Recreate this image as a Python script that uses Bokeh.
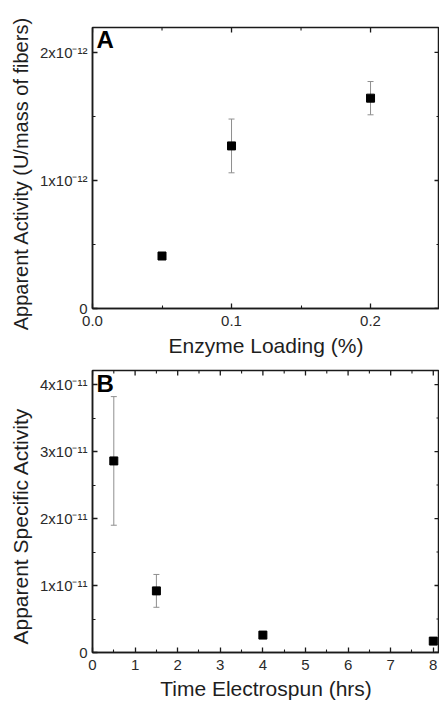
import math
from bokeh.plotting import figure
from bokeh.layouts import column
from bokeh.models import (ColumnDataSource, Whisker, TeeHead, FixedTicker,
                          CustomJSTickFormatter, Range1d, Label)
from bokeh.embed import file_html
from bokeh.resources import INLINE

# ---- Panel A data ----
a_loading = [0.05, 0.1, 0.2]
a_activity = [0.41e-12, 1.27e-12, 1.643e-12]
a_err = [0.0, 0.21e-12, 0.13e-12]
a_xticks = [0.0, 0.1, 0.2]
a_xminor = [0.05, 0.15]
a_xlabels = ["0.0", "0.1", "0.2"]
a_yticks = [0.0, 1e-12, 2e-12]
a_yminor = [0.5e-12, 1.5e-12]
a_ylabels = ["0", "1x10\u207b\u00b9\u00b2", "2x10\u207b\u00b9\u00b2"]

# ---- Panel B data ----
b_time = [0.5, 1.5, 4.0, 8.0]
b_activity = [2.86e-11, 0.92e-11, 0.26e-11, 0.17e-11]
b_err = [0.96e-11, 0.245e-11, 0.0, 0.0]
b_xticks = [0, 1, 2, 3, 4, 5, 6, 7, 8]
b_xminor = [0.5, 1.5, 2.5, 3.5, 4.5, 5.5, 6.5, 7.5]
b_xlabels = ["0", "1", "2", "3", "4", "5", "6", "7", "8"]
b_yticks = [0.0, 1e-11, 2e-11, 3e-11, 4e-11]
b_yminor = [0.5e-11, 1.5e-11, 2.5e-11, 3.5e-11]
b_ylabels = ["0", "1x10\u207b\u00b9\u00b9", "2x10\u207b\u00b9\u00b9", "3x10\u207b\u00b9\u00b9", "4x10\u207b\u00b9\u00b9"]

FONT = "Liberation Sans"
TXT = "#1e1e1e"
TICKTXT = "#2a2a2a"
AXC = "#1a1a1a"
NB = "\u00a0"

fmt_code = """
let best = 0; let bd = Infinity;
for (let i = 0; i < vals.length; i++) {
  const d = Math.abs(vals[i] - tick);
  if (d < bd) { bd = d; best = i; }
}
return labs[best];
"""


def style_axis(ax, ticker, fmt):
    ax.ticker = ticker
    ax.formatter = fmt
    ax.major_tick_in = 5
    ax.major_tick_out = 0
    ax.minor_tick_in = 3
    ax.minor_tick_out = 0
    ax.axis_line_color = AXC
    ax.axis_line_width = 1.5
    ax.major_tick_line_color = AXC
    ax.major_tick_line_width = 1.3
    ax.minor_tick_line_color = AXC
    ax.minor_tick_line_width = 1.1
    ax.major_label_text_font = FONT
    ax.major_label_text_font_size = "15px"
    ax.major_label_text_color = TICKTXT
    ax.axis_label_text_font = FONT
    ax.axis_label_text_font_style = "normal"
    ax.axis_label_text_color = TXT


def make_panel(xs, ys, errs, xr, yr, xt, xm, xl, yt, ym, yl, xlabel, ylabel, letter,
               height, b_top, b_bottom, frame_h, ylab_size, x_stand, y_stand, letter_y):
    p = figure(width=439, height=height, output_backend="svg", toolbar_location=None,
               x_range=Range1d(*xr), y_range=Range1d(*yr),
               min_border_left=92, min_border_right=0, min_border_top=b_top,
               min_border_bottom=b_bottom, background_fill_color="white",
               border_fill_color="white")
    p.xgrid.visible = False
    p.ygrid.visible = False
    p.outline_line_color = AXC
    p.outline_line_width = 1.5

    xfmt = CustomJSTickFormatter(args=dict(vals=xt, labs=xl), code=fmt_code)
    yfmt = CustomJSTickFormatter(args=dict(vals=yt, labs=yl), code=fmt_code)
    style_axis(p.xaxis[0], FixedTicker(ticks=xt, minor_ticks=xm), xfmt)
    style_axis(p.yaxis[0], FixedTicker(ticks=yt, minor_ticks=ym), yfmt)
    p.xaxis[0].major_label_standoff = 7
    p.yaxis[0].major_label_standoff = 5
    p.xaxis[0].axis_label = xlabel
    p.yaxis[0].axis_label = ylabel
    p.xaxis[0].axis_label_text_font_size = "21px"
    p.yaxis[0].axis_label_text_font_size = ylab_size
    p.xaxis[0].axis_label_standoff = x_stand
    p.yaxis[0].axis_label_standoff = y_stand

    # mirrored inward ticks on the top and right edges (half of each dash is clipped)
    xend, yend = xr[1], yr[1]
    p.scatter([xend] * len(yt), yt, marker="dash", size=10, line_color=AXC, line_width=1.3)
    p.scatter([xend] * len(ym), ym, marker="dash", size=6, line_color=AXC, line_width=1.1)
    p.scatter(xt, [yend] * len(xt), marker="dash", size=10, angle=math.pi / 2,
              line_color=AXC, line_width=1.3)
    p.scatter(xm, [yend] * len(xm), marker="dash", size=6, angle=math.pi / 2,
              line_color=AXC, line_width=1.1)

    lower = [y - e for y, e in zip(ys, errs)]
    upper = [y + e for y, e in zip(ys, errs)]
    src = ColumnDataSource(dict(x=xs, y=ys, lower=lower, upper=upper))
    w = Whisker(source=src, base="x", lower="lower", upper="upper",
                line_color="#8f8f8f", line_width=1,
                upper_head=TeeHead(size=6, line_color="#8f8f8f", line_width=1),
                lower_head=TeeHead(size=6, line_color="#8f8f8f", line_width=1))
    p.add_layout(w)
    p.scatter("x", "y", source=src, marker="square", size=8,
              fill_color="black", line_color="black")

    p.add_layout(Label(x=4, y=frame_h + letter_y, x_units="screen", y_units="screen",
                       text=letter, text_font=FONT, text_font_size="24px",
                       text_font_style="bold", text_color="black", text_baseline="top"))
    return p


pA = make_panel(a_loading, a_activity, a_err, (0.0, 0.2496), (0.0, 2.195e-12),
                a_xticks, a_xminor, a_xlabels, a_yticks, a_yminor, a_ylabels,
                "Enzyme Loading (%)", "Apparent Activity (U/mass of fibers)" + NB * 2, "A",
                362, 27, 54, 281, "20px", 5, 5, 2)
pB = make_panel(b_time, b_activity, b_err, (0.0, 8.146), (0.0, 4.21e-11),
                b_xticks, b_xminor, b_xlabels, b_yticks, b_yminor, b_ylabels,
                "Time Electrospun (hrs)", "Apparent Specific Activity" + NB * 5, "B",
                342, 8, 52, 282, "21px", 4, 5, 1)

layout = column(pA, pB, spacing=0)
open("out.html", "w").write(file_html(layout, INLINE))
